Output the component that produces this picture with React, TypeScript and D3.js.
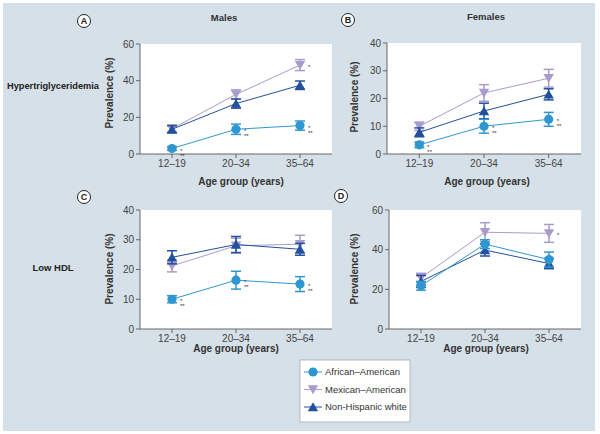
import React from "react";
import * as d3 from "d3";

const ageGroups = ["12–19", "20–34", "35–64"];
const seriesNames = ["African–American", "Mexican–American", "Non-Hispanic white"];
const seriesColors = ["#2f97d0", "#a99bcc", "#22509c"];

// Panel A: Males, hypertriglyceridemia
const aAA = [3, 13.5, 15.5];
const aAAerr = [1, 2.8, 2.5];
const aMA = [13.8, 32.5, 48.5];
const aMAerr = [1.8, 2.5, 3];
const aNHW = [13.5, 27.5, 37.5];
const aNHWerr = [2, 2.5, 2.3];
// Panel B: Females, hypertriglyceridemia
const bAA = [3.3, 10, 12.5];
const bAAerr = [1, 2.5, 2.5];
const bMA = [10, 22, 27.3];
const bMAerr = [1.5, 3, 3.2];
const bNHW = [7.8, 15.5, 21.5];
const bNHWerr = [1.6, 2.8, 2];
// Panel C: Males, low HDL
const cAA = [10, 16.4, 15.1];
const cAAerr = [1.2, 3, 2.5];
const cMA = [21.2, 28, 28.5];
const cMAerr = [2, 2.5, 3];
const cNHW = [24.1, 28.4, 26.8];
const cNHWerr = [2.2, 2.7, 2];
// Panel D: Females, low HDL
const dAA = [21.8, 42.8, 35];
const dAAerr = [2.2, 2.2, 3.8];
const dMA = [25.8, 48.8, 48.2];
const dMAerr = [2.3, 4.8, 4.5];
const dNHW = [24, 39.8, 33];
const dNHWerr = [3, 3, 2.6];

const aTicks = [0, 20, 40, 60];
const bTicks = [0, 10, 20, 30, 40];
const cTicks = [0, 10, 20, 30, 40];
const dTicks = [0, 20, 40, 60];

// stars: [seriesIndex, groupIndex, lines]
const aStars: [number, number, string[]][] = [[0, 0, ["*", "**"]], [0, 1, ["*", "**"]], [0, 2, ["*", "**"]], [1, 2, ["*"]]];
const bStars: [number, number, string[]][] = [[0, 0, ["*", "**"]], [0, 1, ["*", "**"]], [0, 2, ["*", "**"]]];
const cStars: [number, number, string[]][] = [[0, 0, ["*", "**"]], [0, 1, ["*", "**"]], [0, 2, ["*", "**"]]];
const dStars: [number, number, string[]][] = [[1, 2, ["*"]]];

const FONT = "Liberation Sans, Arial, sans-serif";
const AXIS = "#666";

type PanelProps = {
  x0: number; x1: number; yTop: number; yBot: number; max: number; ticks: number[];
  values: number[][]; errs: number[][]; stars: [number, number, string[]][];
};

function Marker({ kind, x, y, color }: { kind: number; x: number; y: number; color: string }) {
  if (kind === 0) return <circle cx={x} cy={y} r={4.6} fill={color} />;
  const s = 5.2;
  if (kind === 1)
    return <path d={`M${x - s},${y - s * 0.8}L${x + s},${y - s * 0.8}L${x},${y + s * 0.9}Z`} fill={color} />;
  return <path d={`M${x - s},${y + s * 0.8}L${x + s},${y + s * 0.8}L${x},${y - s * 0.9}Z`} fill={color} />;
}

function Panel({ x0, x1, yTop, yBot, max, ticks, values, errs, stars }: PanelProps) {
  const x = d3.scalePoint<string>().domain(ageGroups).range([x0, x1]).padding(0.5);
  const y = d3.scaleLinear().domain([0, max]).range([yBot, yTop]);
  const line = d3.line<number>().x((_, i) => x(ageGroups[i])!).y((v) => y(v));
  const order = [1, 2, 0];
  return (
    <g>
      <rect x={x0} y={yTop} width={x1 - x0} height={yBot - yTop} fill="#fff" />
      <line x1={x0} x2={x0} y1={yTop} y2={yBot} stroke={AXIS} />
      <line x1={x0} x2={x1} y1={yBot} y2={yBot} stroke={AXIS} />
      {ticks.map((t) => (
        <g key={t}>
          <line x1={x0 - 4} x2={x0} y1={y(t)} y2={y(t)} stroke={AXIS} />
          <text x={x0 - 6} y={y(t)} dy="0.35em" textAnchor="end" fontSize={10} fill="#444">{t}</text>
        </g>
      ))}
      {ageGroups.map((g) => (
        <g key={g}>
          <line x1={x(g)} x2={x(g)} y1={yBot} y2={yBot + 4} stroke={AXIS} />
          <text x={x(g)} y={yBot + 13} textAnchor="middle" fontSize={10} fill="#444">{g}</text>
        </g>
      ))}
      {order.map((s) => (
        <g key={s}>
          <path d={line(values[s])!} fill="none" stroke={seriesColors[s]} strokeWidth={1} />
          {values[s].map((v, i) => {
            const cx = x(ageGroups[i])!;
            const e = errs[s][i];
            return (
              <g key={i}>
                <line x1={cx} x2={cx} y1={y(v - e)} y2={y(v + e)} stroke={seriesColors[s]} strokeWidth={1.5} />
                <line x1={cx - 5} x2={cx + 5} y1={y(v + e)} y2={y(v + e)} stroke={seriesColors[s]} strokeWidth={1.5} />
                <line x1={cx - 5} x2={cx + 5} y1={y(v - e)} y2={y(v - e)} stroke={seriesColors[s]} strokeWidth={1.5} />
                <Marker kind={s} x={cx} y={y(v)} color={seriesColors[s]} />
              </g>
            );
          })}
        </g>
      ))}
      {stars.map(([s, i, lines], k) => {
        const cx = x(ageGroups[i])! + 8;
        const cy = y(values[s][i]);
        return (
          <g key={k}>
            {lines.map((l, j) => (
              <text key={j} x={cx} y={cy + 4 + j * 5} fontSize={6} fill="#333">{l}</text>
            ))}
          </g>
        );
      })}
    </g>
  );
}

function Badge({ x, y, label }: { x: number; y: number; label: string }) {
  return (
    <g>
      <circle cx={x} cy={y} r={6.5} fill="#fff" stroke="#222" strokeWidth={1} />
      <text x={x} y={y} dy="0.36em" textAnchor="middle" fontSize={9} fontWeight="bold" fill="#222">{label}</text>
    </g>
  );
}

export default function App() {
  return (
    <svg width={600} height={434} style={{ position: "absolute", left: 0, top: 0, fontFamily: FONT }}>
      <rect x={0} y={0} width={600} height={434} fill="#fff" />
      <rect x={3} y={3} width={592} height={428} fill="#d5e0e8" />
      <text x={224} y={21} textAnchor="middle" fontSize={9.5} fontWeight="bold" fill="#333">Males</text>
      <text x={486} y={20} textAnchor="middle" fontSize={9.5} fontWeight="bold" fill="#333">Females</text>
      <Badge x={84} y={21} label="A" />
      <Badge x={348} y={20} label="B" />
      <Badge x={84} y={197} label="C" />
      <Badge x={341} y={196} label="D" />
      <text x={7} y={89} fontSize={9.5} fontWeight="bold" fill="#222" textLength={92} lengthAdjust="spacingAndGlyphs">Hypertriglyceridemia</text>
      <text x={53} y={271} textAnchor="middle" fontSize={9.5} fontWeight="bold" fill="#222">Low HDL</text>

      <Panel x0={140} x1={332} yTop={44} yBot={154} max={60} ticks={aTicks}
        values={[aAA, aMA, aNHW]} errs={[aAAerr, aMAerr, aNHWerr]} stars={aStars} />
      <Panel x0={387} x1={581} yTop={43} yBot={154} max={40} ticks={bTicks}
        values={[bAA, bMA, bNHW]} errs={[bAAerr, bMAerr, bNHWerr]} stars={bStars} />
      <Panel x0={140} x1={332} yTop={210} yBot={329} max={40} ticks={cTicks}
        values={[cAA, cMA, cNHW]} errs={[cAAerr, cMAerr, cNHWerr]} stars={cStars} />
      <Panel x0={389} x1={581} yTop={210} yBot={329} max={60} ticks={dTicks}
        values={[dAA, dMA, dNHW]} errs={[dAAerr, dMAerr, dNHWerr]} stars={dStars} />

      {[[113, 93], [358, 97], [113, 269], [358, 269]].map(([cx, cy], i) => (
        <text key={i} transform={`translate(${cx},${cy}) rotate(-90)`} textAnchor="middle" fontSize={10} fontWeight="bold" fill="#333">Prevalence (%)</text>
      ))}
      {[[241, 185], [487, 185], [236, 352], [486, 352]].map(([cx, cy], i) => (
        <text key={i} x={cx} y={cy} textAnchor="middle" fontSize={10} fontWeight="bold" fill="#333">Age group (years)</text>
      ))}

      <g>
        <rect x={300} y={360} width={110} height={62} fill="#fff" stroke="#aab" strokeWidth={0.8} />
        {seriesNames.map((n, i) => {
          const yy = 372 + i * 17.5;
          return (
            <g key={n}>
              <line x1={304} x2={322} y1={yy} y2={yy} stroke={seriesColors[i]} />
              <Marker kind={i} x={313} y={yy} color={seriesColors[i]} />
              <text x={325} y={yy} dy="0.35em" fontSize={9.5} fill="#333">{n}</text>
            </g>
          );
        })}
      </g>
    </svg>
  );
}
